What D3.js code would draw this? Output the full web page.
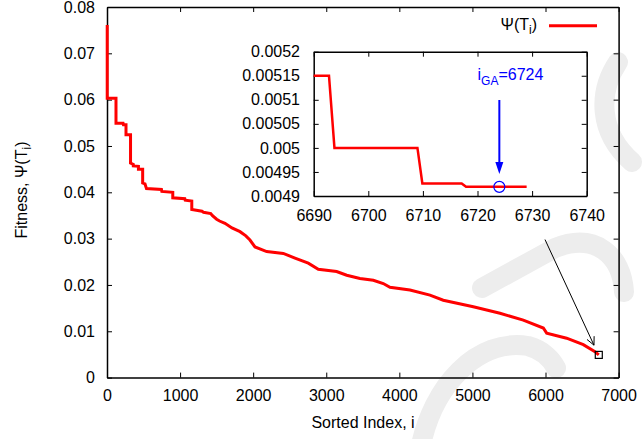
<!DOCTYPE html>
<html><head><meta charset="utf-8">
<script src="https://cdn.jsdelivr.net/npm/d3@7"></script>
<style>
html,body{margin:0;padding:0;background:#fff;}
svg{display:block;font-family:"Liberation Sans",Arial,Helvetica,sans-serif;}
</style></head>
<body>
<svg id="chart" width="642" height="439"></svg>
<script>
// ---------- data ----------
const mainIndex = [3,3,123,123,220,225,260,260,322,322,360,360,430,430,488,488,520,540,745,750,900,900,1065,1070,1160,1160,1300,1320,1420,1440,1500,1540,1614,1710,1820,1900,1956,2025,2185,2412,2572,2754,2891,3142,3280,3461,3644,3780,3872,4145,4419,4601,5012,5377,5696,5970,6016,6289,6517,6677,6729];
const mainFitness = [0.0761,0.0603,0.0603,0.0549,0.0549,0.0546,0.0546,0.0524,0.0524,0.0463,0.0460,0.0457,0.0456,0.0450,0.0450,0.0420,0.0418,0.0408,0.0406,0.0402,0.0400,0.0388,0.0386,0.0383,0.0381,0.0363,0.0359,0.0357,0.0354,0.0350,0.0342,0.0338,0.0333,0.0323,0.0315,0.0306,0.0297,0.0282,0.0272,0.0268,0.0258,0.0247,0.0234,0.0229,0.0221,0.0214,0.0210,0.0203,0.0195,0.0189,0.0178,0.0167,0.0153,0.0139,0.0124,0.0107,0.0096,0.0085,0.0071,0.0056,0.0049];

const insetIndex = [6690,6692.8,6693.8,6709,6709.9,6717.1,6717.9,6729];
const insetFitness = [0.00515,0.00515,0.0050,0.0050,0.004926,0.004926,0.004919,0.004919];

const xTicks = [0,1000,2000,3000,4000,5000,6000,7000];
const xTickLabels = ["0","1000","2000","3000","4000","5000","6000","7000"];
const yTicks = [0,0.01,0.02,0.03,0.04,0.05,0.06,0.07,0.08];
const yTickLabels = ["0","0.01","0.02","0.03","0.04","0.05","0.06","0.07","0.08"];
const insetXTicks = [6690,6700,6710,6720,6730,6740];
const insetXTickLabels = ["6690","6700","6710","6720","6730","6740"];
const insetYTicks = [0.0049,0.00495,0.005,0.00505,0.0051,0.00515,0.0052];
const insetYTickLabels = ["0.0049","0.00495","0.005","0.00505","0.0051","0.00515","0.0052"];

const gaIndex = 6724, gaFitness = 0.004919;
const endIndex = 6729, endFitness = 0.0049;
const arrowFrom = [5993, 0.0298], arrowTo = [6663, 0.0070];

// ---------- drawing ----------
const svg = d3.select("#chart");
const FS = 16;

// faint watermark
const wm = svg.append("g").attr("fill","none").attr("stroke","#ededed")
  .attr("stroke-width",20).attr("stroke-linecap","round");
wm.append("path").attr("d","M420,450 C432,385 478,338 528,346 C543,350 552,360 556,368");
wm.append("path").attr("d","M482,288 L555,248 C595,232 622,255 624,292");
wm.append("path").attr("d","M618,62 C598,92 598,132 632,162");

const x = d3.scaleLinear().domain([0,7000]).range([107,618.6]);
const y = d3.scaleLinear().domain([0,0.08]).range([377.6,7]);

function styleAxis(g){
  g.selectAll(".domain").attr("stroke","#000").attr("stroke-width",1.5);
  g.selectAll(".tick line").attr("stroke","#000").attr("stroke-width",1);
  g.selectAll("text").attr("fill","#000").attr("font-size",FS).attr("font-family",null);
}

svg.append("g").attr("transform",`translate(0,${y(0)})`)
  .call(d3.axisBottom(x).tickValues(xTicks).tickSizeInner(-5).tickSizeOuter(0).tickPadding(12.5)
    .tickFormat((d,i)=>xTickLabels[i])).call(styleAxis);
svg.append("g").attr("transform",`translate(0,${y(0.08)})`)
  .call(d3.axisTop(x).tickValues(xTicks).tickSizeInner(-5).tickSizeOuter(0).tickFormat(""))
  .call(styleAxis);
svg.append("g").attr("transform",`translate(${x(0)},0)`)
  .call(d3.axisLeft(y).tickValues(yTicks).tickSizeInner(-5).tickSizeOuter(0).tickPadding(12)
    .tickFormat((d,i)=>yTickLabels[i])).call(styleAxis);
svg.append("g").attr("transform",`translate(${x(7000)},0)`)
  .call(d3.axisRight(y).tickValues(yTicks).tickSizeInner(-5).tickSizeOuter(0).tickFormat(""))
  .call(styleAxis);

// axis titles
svg.append("text").attr("x",363).attr("y",428).attr("text-anchor","middle")
  .attr("font-size",FS).text("Sorted Index, i");
const yl = svg.append("text").attr("transform","translate(27,190) rotate(-90)")
  .attr("text-anchor","middle").attr("font-size",FS);
yl.append("tspan").text("Fitness, Ψ(T");
yl.append("tspan").attr("font-size",12).attr("dy",4).text("i");
yl.append("tspan").attr("dy",-4).text(")");

// main line
const mainData = mainIndex.map((d,i)=>[d,mainFitness[i]]);
svg.append("path").datum(mainData)
  .attr("fill","none").attr("stroke","#ff0000").attr("stroke-width",3).attr("stroke-linejoin","miter")
  .attr("d",d3.line().x(d=>x(d[0])).y(d=>y(d[1])));

// legend
const lg = svg.append("text").attr("x",537).attr("y",30).attr("text-anchor","end").attr("font-size",FS);
lg.append("tspan").text("Ψ(T");
lg.append("tspan").attr("font-size",12).attr("dy",4).text("i");
lg.append("tspan").attr("dy",-4).text(")");
svg.append("line").attr("x1",549).attr("x2",597).attr("y1",25.7).attr("y2",25.7)
  .attr("stroke","#ff0000").attr("stroke-width",3);

// end-point square and pointer arrow
svg.append("rect").attr("x",x(endIndex)-3.5).attr("y",y(endFitness)-3.5).attr("width",7).attr("height",7)
  .attr("fill","none").attr("stroke","#000").attr("stroke-width",1.2);
{
  const x1=x(arrowFrom[0]), y1=y(arrowFrom[1]), x2=x(arrowTo[0]), y2=y(arrowTo[1]);
  const ang=Math.atan2(y2-y1,x2-x1), L=9, A=0.45;
  svg.append("path").attr("fill","none").attr("stroke","#000").attr("stroke-width",1)
    .attr("d",`M${x1},${y1}L${x2},${y2}M${x2-L*Math.cos(ang-A)},${y2-L*Math.sin(ang-A)}L${x2},${y2}L${x2-L*Math.cos(ang+A)},${y2-L*Math.sin(ang+A)}`);
}

// ---------- inset ----------
const xi = d3.scaleLinear().domain([6690,6740]).range([313.7,586.7]);
const yi = d3.scaleLinear().domain([0.0049,0.0052]).range([196,51.7]);
svg.append("rect").attr("x",313.7).attr("y",51.7).attr("width",273).attr("height",144.3).attr("fill","#fff");
svg.append("g").attr("transform",`translate(0,${yi(0.0049)})`)
  .call(d3.axisBottom(xi).tickValues(insetXTicks).tickSizeInner(-5).tickSizeOuter(0).tickPadding(14)
    .tickFormat((d,i)=>insetXTickLabels[i])).call(styleAxis);
svg.append("g").attr("transform",`translate(0,${yi(0.0052)})`)
  .call(d3.axisTop(xi).tickValues(insetXTicks).tickSizeInner(-5).tickSizeOuter(0).tickFormat(""))
  .call(styleAxis);
svg.append("g").attr("transform",`translate(${xi(6690)},0)`)
  .call(d3.axisLeft(yi).tickValues(insetYTicks).tickSizeInner(-5).tickSizeOuter(0).tickPadding(13.7)
    .tickFormat((d,i)=>insetYTickLabels[i])).call(styleAxis);
svg.append("g").attr("transform",`translate(${xi(6740)},0)`)
  .call(d3.axisRight(yi).tickValues(insetYTicks).tickSizeInner(-5).tickSizeOuter(0).tickFormat(""))
  .call(styleAxis);

const insetData = insetIndex.map((d,i)=>[d,insetFitness[i]]);
svg.append("path").datum(insetData)
  .attr("fill","none").attr("stroke","#ff0000").attr("stroke-width",2.5)
  .attr("d",d3.line().x(d=>xi(d[0])).y(d=>yi(d[1])));

// GA marker
const gx = xi(gaIndex), gy = yi(gaFitness);
svg.append("circle").attr("cx",gx).attr("cy",gy).attr("r",5.5)
  .attr("fill","none").attr("stroke","#0000ff").attr("stroke-width",1.2);
svg.append("line").attr("x1",gx).attr("x2",gx).attr("y1",100).attr("y2",165)
  .attr("stroke","#0000ff").attr("stroke-width",2);
svg.append("path").attr("d",`M${gx-4},${162}L${gx+4},${162}L${gx},${174}Z`).attr("fill","#0000ff");
const ga = svg.append("text").attr("x",477.5).attr("y",80).attr("font-size",FS).attr("fill","#0000ff");
ga.append("tspan").text("i");
ga.append("tspan").attr("font-size",12).attr("dy",5).text("GA");
ga.append("tspan").attr("dy",-5).text("=6724");
</script>
</body></html>
